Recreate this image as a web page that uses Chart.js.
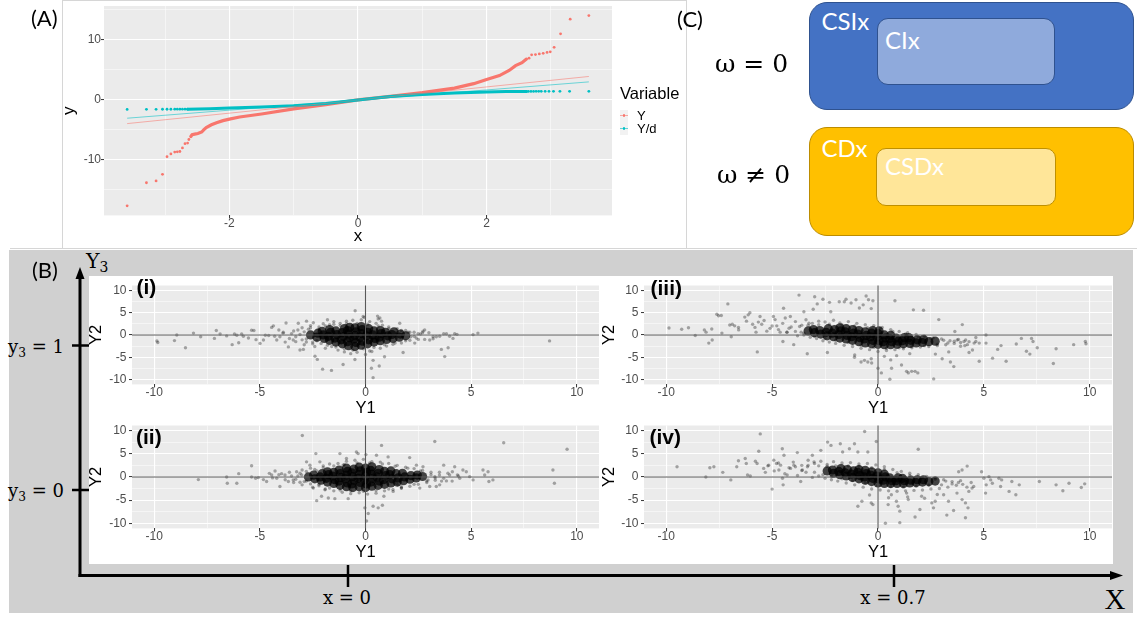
<!DOCTYPE html>
<html>
<head>
<meta charset="utf-8">
<script src="https://cdn.jsdelivr.net/npm/chart.js@4.4.1/dist/chart.umd.min.js"></script>
<style>
  html, body { margin: 0; padding: 0; background: #fff; }
  #page { position: relative; width: 1137px; height: 617px; overflow: hidden; font-family: "Liberation Sans", Arial, sans-serif; }
  .abs { position: absolute; }
  .lbl { position: absolute; white-space: nowrap; line-height: 1; }
  .tag { font-family: Lato, "Open Sans", sans-serif; font-size: 22px; color: #000; }
  .math { font-family: "DejaVu Serif", serif; color: #000; }
  .inbox { font-family: Lato, "Open Sans", sans-serif; font-size: 24px; color: #fff; }
  .panel { font-family: "Liberation Sans", Arial, sans-serif; font-weight: bold; font-size: 21px; color: #000; }
  .box { position: absolute; box-sizing: border-box; }
  canvas { position: absolute; }
  sub { font-size: 0.68em; vertical-align: -0.3em; line-height: 0; }
</style>
</head>
<body>
<div id="page">
  <!-- frames of the top row -->
  <div class="box" style="left:62px;top:0;width:625px;height:249px;border:1px solid #d6d6d6;border-bottom:none"></div>
  <div class="abs" style="left:10px;top:248px;width:1127px;height:1px;background:#d6d6d6"></div>

  <!-- (B) background -->
  <div class="abs" style="left:9px;top:250px;width:1124px;height:363px;background:#d0d0d0"></div>
  <div class="abs" style="left:89px;top:276px;width:1024px;height:288px;background:#fff"></div>

  <svg class="abs" style="left:0;top:0" width="1137" height="617">
    <g stroke="#000" fill="none">
      <line x1="80" y1="577" x2="80" y2="276" stroke-width="3"/>
      <line x1="78.5" y1="575.5" x2="1112" y2="575.5" stroke-width="3"/>
      <line x1="72" y1="345.5" x2="89" y2="345.5" stroke-width="2.5"/>
      <line x1="72" y1="490" x2="89" y2="490" stroke-width="2.5"/>
      <line x1="348" y1="565" x2="348" y2="587" stroke-width="2.5"/>
      <line x1="894" y1="565" x2="894" y2="587" stroke-width="2.5"/>
    </g>
    <polygon points="80,267 75.5,279 84.5,279" fill="#000"/>
    <polygon points="1123,575.5 1110,571 1110,580" fill="#000"/>
  </svg>

  <canvas id="qq" width="630" height="248" style="left:56px;top:0"></canvas>
  <canvas id="p1" width="521" height="143" style="left:84px;top:277px"></canvas>
  <canvas id="p2" width="521" height="147" style="left:84px;top:417px"></canvas>
  <canvas id="p3" width="522" height="143" style="left:598px;top:277px"></canvas>
  <canvas id="p4" width="522" height="147" style="left:598px;top:417px"></canvas>

  <!-- legend of the Q-Q plot -->
  <div class="lbl" style="left:620px;top:85px;font-size:16.5px;color:#000">Variable</div>
  <div class="abs" style="left:620px;top:109.5px;width:8px;height:12.5px;background:#f2f2f2"></div>
  <div class="abs" style="left:620px;top:122px;width:8px;height:12.5px;background:#f2f2f2"></div>
  <div class="abs" style="left:620px;top:115.3px;width:8px;height:1px;background:rgba(248,118,109,0.6)"></div>
  <div class="abs" style="left:622.6px;top:114.3px;width:2.8px;height:2.8px;border-radius:50%;background:#f8766d"></div>
  <div class="abs" style="left:620px;top:127.8px;width:8px;height:1px;background:rgba(0,191,196,0.6)"></div>
  <div class="abs" style="left:622.6px;top:126.8px;width:2.8px;height:2.8px;border-radius:50%;background:#00bfc4"></div>
  <div class="lbl" style="left:637px;top:109px;font-size:13px;color:#000">Y</div>
  <div class="lbl" style="left:637px;top:121.5px;font-size:13px;color:#000">Y/d</div>

  <!-- (C) diagram -->
  <div class="box" style="left:809px;top:2px;width:325px;height:108px;border-radius:18px;background:#4472c4;border:1.3px solid #2f528f"></div>
  <div class="box" style="left:877px;top:18px;width:178px;height:67px;border-radius:11px;background:#8faadc;border:1.5px solid #2f528f"></div>
  <div class="box" style="left:809px;top:127px;width:325px;height:109px;border-radius:18px;background:#ffc000;border:1.3px solid #bc8c00"></div>
  <div class="box" style="left:876px;top:148px;width:180px;height:58px;border-radius:10px;background:#ffe699;border:1.5px solid #bf9000"></div>
  <div class="lbl inbox" style="left:821.5px;top:9.3px">CSIx</div>
  <div class="lbl inbox" style="left:885px;top:27.8px">CIx</div>
  <div class="lbl inbox" style="left:821.5px;top:136.3px">CDx</div>
  <div class="lbl inbox" style="left:885px;top:153.8px">CSDx</div>
  <div class="lbl math" style="left:715px;top:50.5px;font-size:25px">ω = 0</div>
  <div class="lbl math" style="left:717px;top:162px;font-size:25px">ω ≠ 0</div>

  <!-- panel tags -->
  <div class="lbl tag" style="left:31px;top:7px">(A)</div>
  <div class="lbl tag" style="left:677px;top:8.4px">(C)</div>
  <div class="lbl tag" style="left:32px;top:259.4px">(B)</div>
  <div class="lbl panel" style="left:136.5px;top:276px">(i)</div>
  <div class="lbl panel" style="left:136px;top:425.6px">(ii)</div>
  <div class="lbl panel" style="left:650.5px;top:276.6px">(iii)</div>
  <div class="lbl panel" style="left:649.5px;top:425.6px">(iv)</div>

  <!-- Y3 / X design axes -->
  <div class="lbl math" style="left:86px;top:250.6px;font-size:20.5px">Y<sub>3</sub></div>
  <div class="lbl math" style="left:8px;top:338px;font-size:18px">y<sub>3</sub> = 1</div>
  <div class="lbl math" style="left:8px;top:482.3px;font-size:18px">y<sub>3</sub> = 0</div>
  <div class="lbl math" style="left:347px;top:589px;font-size:18px;transform:translateX(-50%)">x = 0</div>
  <div class="lbl math" style="left:893px;top:589px;font-size:18px;transform:translateX(-50%)">x = 0.7</div>
  <div class="lbl" style="left:1115px;top:585.3px;font-size:29px;font-family:'Liberation Serif',serif;transform:translateX(-50%)">X</div>
</div>

<script>
// ---- (A) Q-Q plot: theoretical quantile x, sample quantile y ----
const qqRedTail = [
  [-3.59, -17.65], [-3.29, -13.8], [-3.14, -13.5], [-3.04, -12.4], [-2.97, -9.45], [-2.91, -9.0],
  [-2.85, -8.7], [-2.81, -8.65], [-2.77, -8.6], [-2.73, -8.0], [-2.69, -7.3], [-2.65, -7.2], [-2.63, -6.6],
  [2.66, 6.95], [2.70, 7.5], [2.76, 7.55], [2.82, 7.65], [2.88, 7.75], [2.94, 7.9], [2.99, 8.0],
  [3.05, 8.75], [3.15, 11.0], [3.30, 13.45], [3.59, 14.05]
];
const qqRedBody = [
  [-2.60, -6.1], [-2.58, -5.8], [-2.54, -5.7], [-2.49, -5.6], [-2.43, -5.35], [-2.40, -5.0], [-2.36, -4.6],
  [-2.28, -4.15], [-2.20, -3.8], [-2.10, -3.45], [-2.0, -3.2], [-1.84, -2.85], [-1.5, -2.35], [-1.0, -1.5],
  [-0.5, -0.8], [0, 0], [0.5, 0.6], [1.0, 1.2], [1.5, 1.97], [1.8, 2.7], [2.0, 3.4], [2.2, 4.05],
  [2.35, 4.9], [2.45, 5.7], [2.55, 6.2], [2.62, 6.8]
];
const qqTealTail = [
  [-3.59, -1.58], [-3.29, -1.57], [-3.14, -1.57], [-3.04, -1.56], [-2.97, -1.56], [-2.91, -1.56],
  [-2.85, -1.55], [-2.81, -1.55], [-2.77, -1.55], [-2.73, -1.55], [-2.69, -1.54], [-2.65, -1.54],
  [2.65, 1.41], [2.69, 1.41], [2.73, 1.41], [2.77, 1.42], [2.81, 1.42], [2.85, 1.42], [2.91, 1.42],
  [2.97, 1.42], [3.04, 1.42], [3.14, 1.43], [3.29, 1.43], [3.59, 1.43]
];
const qqTealBody = [
  [-2.65, -1.54], [-2.3, -1.48], [-2.0, -1.36], [-1.5, -1.2], [-1.0, -0.98], [-0.5, -0.6], [0, 0],
  [0.5, 0.55], [1.0, 0.9], [1.5, 1.15], [2.0, 1.33], [2.3, 1.39], [2.62, 1.41]
];
const qqRedLine = [[-3.59, -3.95], [3.59, 3.9]];
const qqTealLine = [[-3.59, -3.05], [3.59, 3.0]];
const qqXBreaks = [-2, 0, 2];
const qqYBreaks = [-10, 0, 10];

// ---- (B) scatter of Y2 against Y1 ----
const scatBreaks = [-10, -5, 0, 5, 10];

const coreI = [
  [-2.6, 0.0], [-2.3, -0.5], [-2.25, 0.4], [-2.0, 0.0], [-1.95, -0.8], [-2.05, 0.8],
  [-1.7, -1.2], [-1.75, -0.3], [-1.65, 0.6], [-1.7, 1.2], [-1.4, -1.6], [-1.45, -0.7], [-1.35, 0.1], [-1.4, 0.9],
  [-1.1, -2.0], [-1.15, -1.1], [-1.05, -0.3], [-1.1, 0.5], [-1.0, 1.4],
  [-0.8, -2.4], [-0.85, -1.5], [-0.75, -0.6], [-0.8, 0.2], [-0.85, 1.0], [-0.75, 1.7],
  [-0.5, -2.6], [-0.45, -1.7], [-0.55, -0.9], [-0.5, -0.1], [-0.45, 0.7], [-0.5, 1.6],
  [-0.2, -2.3], [-0.15, -1.4], [-0.25, -0.5], [-0.2, 0.3], [-0.15, 1.2], [-0.2, 1.9],
  [0.1, -2.0], [0.15, -1.1], [0.05, -0.2], [0.1, 0.6], [0.15, 1.4],
  [0.4, -1.6], [0.45, -0.8], [0.35, 0.0], [0.4, 0.9], [0.7, -1.3], [0.65, -0.5], [0.75, 0.3], [0.7, 1.0],
  [1.0, -1.0], [1.05, -0.2], [0.95, 0.6], [1.3, -0.8], [1.25, 0.1], [1.35, 0.7], [1.6, -0.5], [1.65, 0.2], [1.9, -0.2]
];
const ptsI = [
  [-9.87, -1.34], [-9.83, -1.69], [-8.93, 0], [-9.04, -1.27], [-8.52, -2.89], [-8.14, 0.42], [-7.80, -0.42],
  [-7.15, -0.77], [-7.06, 0.99], [-6.88, 0.21], [-6.57, -0.21], [-6.31, -2.18], [-6.20, 0.21], [-6.09, -0.07],
  [-6.0, -1.76], [-5.86, 0.21], [-5.78, -0.28], [-5.54, -0.70], [-5.39, 1.06], [-5.28, 0.99], [-5.18, -1.06],
  [-4.99, -1.90], [-4.83, -1.13], [-4.74, -0.07], [-4.58, -0.14], [-4.44, 1.69], [-4.36, 2.04], [-4.20, -1.13],
  [-4.05, -0.42], [-3.89, 0.63], [-3.76, 2.68], [-3.65, -2.68], [-3.42, -1.13], [-3.18, 2.61], [-3.10, -3.38],
  [-2.94, -3.24], [-2.79, 3.10], [-2.47, 2.75], [-2.39, -4.79], [-2.28, -5.49], [-2.03, -7.68], [-1.61, -7.96],
  [-1.06, -6.62], [-0.49, 5.42], [-0.11, 4.15], [-0.06, 3.94], [0.20, -3.59], [0.36, -9.58], [0.57, 4.23],
  [0.68, 3.80], [0.76, 3.10], [0.28, -7.46], [0.65, -6.97], [0.36, -5.70], [1.62, 2.61], [1.78, -3.94],
  [2.02, 0.63], [2.14, -0.42], [2.33, -1.83], [2.49, 0.28], [2.72, 0.85], [2.80, 1.13], [3.04, -1.13],
  [3.20, -0.85], [3.35, -0.42], [3.51, -0.28], [3.59, -3.24], [3.70, 0.28], [3.83, 0.28], [3.91, -2.89],
  [3.75, -4.86], [3.98, -0.28], [4.14, -0.77], [4.22, 0.28], [4.33, 0.14], [5.09, 0.07], [5.32, 0.42], [8.71, -1.34],
  [-3.9, 0.4], [-3.6, -0.8], [-3.4, 0.9], [-3.3, -1.5], [-3.1, 0.1], [-3.0, 1.6], [-2.9, -2.2], [-2.8, -0.9],
  [-2.7, 1.3], [-2.6, 2.1], [-2.5, -1.6], [-2.4, -2.6], [-2.2, 1.8], [-2.1, -1.9], [-2.0, 2.5], [-1.9, -3.0],
  [-1.7, 2.3], [-1.6, -2.6], [-1.5, 3.0], [-1.3, -3.4], [-1.2, 2.6], [-1.0, -3.8], [-0.9, 3.1], [-0.7, -4.2],
  [-0.6, 3.3], [-0.4, -3.9], [-0.2, 3.4], [0.0, -4.4], [0.2, 3.0], [0.3, -3.7], [0.5, 2.6], [0.7, -3.0],
  [0.8, 2.2], [1.0, -2.5], [1.1, 1.8], [1.3, -2.1], [1.5, 1.4], [1.7, -1.8], [1.9, 1.0], [2.1, -1.2],
  [2.3, 0.6], [2.4, -0.7], [2.6, 0.2], [2.8, -1.0], [3.0, 0.5], [3.2, -0.4], [-4.3, -0.3], [-4.1, 1.1],
  [-3.8, -1.6], [-0.5, -5.5], [0.9, -4.9], [-1.8, 3.4], [0.6, 3.6],
  [-3.5, 0.3], [-3.3, -0.4], [-3.2, 1.1], [-3.0, -1.1], [-2.9, 0.7], [-2.8, -1.6], [-2.6, 1.6], [-2.5, -2.0],
  [-2.3, -1.3], [-2.2, 1.3], [-1.9, 2.0], [-1.8, -2.3], [-1.5, 2.4], [-1.4, -2.7], [-1.2, 2.1], [-1.0, -3.1],
  [-0.9, 2.5], [-0.6, -3.4], [-0.4, 2.6], [-0.1, -3.1], [0.1, 2.4], [0.4, -2.8], [0.6, 2.0], [0.9, -2.2],
  [1.1, 1.4], [1.4, -1.8], [1.7, 1.0], [1.9, -1.3], [2.1, 0.6], [2.3, -0.3], [2.5, -1.0], [2.7, 0.5]
];

const coreII = [
  [-2.7, 0.0], [-2.4, -0.4], [-2.45, 0.4], [-2.1, -0.7], [-2.15, 0.0], [-2.05, 0.7],
  [-1.8, -1.1], [-1.85, -0.3], [-1.75, 0.5], [-1.8, 1.1], [-1.5, -1.4], [-1.45, -0.6], [-1.55, 0.2], [-1.5, 1.0],
  [-1.2, -1.8], [-1.25, -0.9], [-1.15, -0.1], [-1.2, 0.7], [-1.25, 1.5],
  [-0.9, -2.1], [-0.85, -1.3], [-0.95, -0.4], [-0.9, 0.4], [-0.85, 1.2], [-0.9, 1.9],
  [-0.6, -2.3], [-0.65, -1.5], [-0.55, -0.7], [-0.6, 0.1], [-0.65, 0.9], [-0.55, 1.7],
  [-0.3, -2.1], [-0.25, -1.2], [-0.35, -0.3], [-0.3, 0.5], [-0.25, 1.3], [-0.3, 2.1],
  [0.0, -2.3], [0.05, -1.5], [-0.05, -0.6], [0.0, 0.2], [0.05, 1.0], [0.0, 1.9],
  [0.3, -2.0], [0.25, -1.1], [0.35, -0.3], [0.3, 0.6], [0.25, 1.4], [0.3, 2.2],
  [0.6, -1.8], [0.65, -0.9], [0.55, 0.0], [0.6, 0.8], [0.65, 1.6],
  [0.9, -1.6], [0.85, -0.6], [0.95, 0.3], [0.9, 1.2], [1.2, -1.3], [1.25, -0.4], [1.15, 0.5], [1.2, 1.3],
  [1.5, -1.1], [1.55, -0.2], [1.45, 0.7], [1.8, -0.8], [1.85, 0.0], [1.75, 0.8],
  [2.1, -0.5], [2.15, 0.3], [2.4, -0.2], [2.45, 0.4], [2.7, 0.1]
];
const ptsII = [
  [-7.91, -0.57], [-6.57, 0], [-6.54, -1.35], [-6.09, -1.35], [-6.0, 0.71], [-5.39, 2.41], [-5.39, 0],
  [-5.20, -0.28], [-5.07, -0.14], [-4.83, -0.57], [-4.68, -0.99], [-4.55, 0.78], [-4.44, 0.43], [-4.28, 1.28],
  [-4.20, -0.28], [-4.05, -2.06], [-3.97, 0.71], [-3.81, 0.43], [-3.65, -0.99], [-3.42, -0.64], [-3.26, 1.13],
  [-3.10, -1.13], [-3.02, 0.43], [-2.99, 8.94], [-2.79, 3.26], [-2.63, 2.55], [-2.47, -2.41], [-2.35, 5.04],
  [-2.31, -5.11], [-2.16, 3.26], [-2.08, -4.18], [-1.92, -2.77], [-1.76, -4.54], [-1.45, -4.68], [-1.21, 5.04],
  [-1.06, 2.55], [-0.90, 3.97], [-0.82, -4.68], [-0.43, 5.39], [-0.35, 5.04], [0.02, 4.82], [0.13, -7.87],
  [0.05, -9.50], [-0.03, -6.67], [0.36, -6.31], [0.52, 4.68], [0.60, -6.67], [0.76, 6.81], [0.80, -6.10],
  [0.87, -4.18], [1.07, 4.33], [1.31, -3.12], [1.46, -1.35], [1.54, -1.70], [1.70, -2.41], [2.09, 4.18],
  [2.41, 2.55], [2.57, -2.41], [2.72, 2.20], [2.96, -0.64], [3.04, -2.06], [3.28, 0.07], [3.35, -2.06],
  [3.51, -1.70], [3.28, 7.66], [3.70, 2.55], [3.83, -0.85], [3.98, 0.43], [4.11, 1.13], [4.22, 2.20],
  [4.35, 0.43], [4.46, -0.28], [4.61, 1.49], [4.77, 1.13], [4.93, 0.07], [5.09, -0.64], [5.56, 1.49],
  [5.64, 0.43], [5.80, 1.13], [5.84, -0.99], [6.03, -0.64], [6.54, 7.38], [8.87, 1.49], [8.94, -1.35], [9.54, 5.96],
  [-4.1, 0.5], [-3.8, -0.6], [-3.6, 1.0], [-3.4, -1.2], [-3.2, 0.2], [-3.0, 1.5], [-3.0, -1.7], [-2.8, -0.9],
  [-2.6, 1.9], [-2.5, -2.2], [-2.3, 1.3], [-2.2, -1.6], [-2.0, 2.4], [-1.9, -2.6], [-1.7, 2.8], [-1.5, -3.0],
  [-1.3, 2.9], [-1.1, -3.3], [-0.9, 3.4], [-0.7, -3.6], [-0.5, 3.6], [-0.3, -3.4], [-0.1, 3.8], [0.1, -3.7],
  [0.3, 3.3], [0.5, -3.5], [0.7, 3.2], [0.9, -3.0], [1.1, 2.9], [1.3, -2.7], [1.5, 2.5], [1.7, -2.4],
  [1.9, 2.1], [2.1, -2.0], [2.3, 1.8], [2.5, -1.6], [2.7, 1.4], [2.9, -1.2], [3.1, 1.0], [3.3, -0.7],
  [3.5, 0.4], [3.7, -0.3], [3.9, 0.8], [4.1, -0.9], [4.4, 0.2], [-4.4, -0.2],
  [-3.5, 0.2], [-3.3, -0.5], [-3.1, 0.8], [-2.9, -1.0], [-2.8, 1.2], [-2.6, -1.5], [-2.4, 1.6], [-2.2, -1.9],
  [-2.0, 2.0], [-1.7, -2.4], [-1.5, 2.4], [-1.2, -2.8], [-1.0, 2.7], [-0.7, -3.0], [-0.4, 3.0], [-0.1, -3.1],
  [0.2, 3.0], [0.5, -2.9], [0.8, 2.8], [1.1, -2.6], [1.4, 2.3], [1.7, -2.1], [2.0, 1.9], [2.3, -1.6],
  [2.6, 1.3], [2.9, -0.9], [3.1, 0.5], [3.3, -0.2], [3.5, 1.0], [3.6, -0.9]
];

const coreIII = [
  [-3.3, 0.9], [-3.0, 0.5], [-3.05, 1.2], [-2.7, 0.2], [-2.75, 1.0], [-2.4, -0.2], [-2.45, 0.6], [-2.35, 1.4],
  [-2.1, -0.4], [-2.15, 0.4], [-2.05, 1.2], [-1.8, -0.7], [-1.85, 0.1], [-1.75, 0.9], [-1.8, 1.6],
  [-1.5, -0.9], [-1.45, -0.1], [-1.55, 0.7], [-1.5, 1.4], [-1.2, -1.2], [-1.25, -0.4], [-1.15, 0.4], [-1.2, 1.2],
  [-0.9, -1.5], [-0.85, -0.6], [-0.95, 0.2], [-0.9, 1.0], [-0.6, -1.8], [-0.65, -0.9], [-0.55, -0.1], [-0.6, 0.7],
  [-0.3, -2.0], [-0.25, -1.2], [-0.35, -0.4], [-0.3, 0.4], [-0.25, 1.0],
  [0.0, -2.1], [0.05, -1.3], [-0.05, -0.5], [0.0, 0.3], [0.05, 0.9],
  [0.3, -2.2], [0.25, -1.5], [0.35, -0.7], [0.3, 0.0], [0.6, -2.2], [0.65, -1.5], [0.55, -0.8], [0.6, -0.1],
  [0.9, -2.1], [0.95, -1.4], [0.85, -0.7], [1.2, -2.0], [1.15, -1.3], [1.25, -0.6],
  [1.5, -1.9], [1.55, -1.2], [1.45, -0.6], [1.8, -1.8], [1.85, -1.1], [2.1, -1.7], [2.15, -1.0],
  [2.4, -1.5], [2.7, -1.4]
];
const ptsIII = [
  [-9.87, 1.55], [-9.27, 1.27], [-8.95, 1.62], [-8.63, -0.14], [-8.20, 1.13], [-8.12, 0.63], [-7.99, -1.83],
  [-7.83, -1.13], [-7.85, 1.34], [-7.61, 4.65], [-7.53, 4.30], [-7.40, 4.37], [-7.37, 0.42], [-7.09, 6.97],
  [-7.0, 2.25], [-6.88, 2.39], [-6.77, 2.04], [-6.93, -0.42], [-6.59, 1.69], [-6.58, 1.13], [-6.29, 4.01],
  [-6.21, 3.10], [-6.13, 4.51], [-6.05, 5.0], [-5.92, 2.39], [-5.81, 1.69], [-5.76, 0.63], [-5.70, -3.80],
  [-5.65, 2.89], [-5.57, 4.15], [-5.49, 2.39], [-5.38, 3.24], [-5.25, 0.85], [-5.10, 1.48], [-4.94, 4.15],
  [-4.86, 3.45], [-4.78, 2.04], [-4.62, 0.63], [-4.49, -1.48], [-4.46, 5.99], [-4.38, 3.80], [-4.30, 0.63],
  [-4.14, 4.15], [-3.98, -2.18], [-3.73, 8.94], [-3.63, 0.63], [-3.50, 5.21], [-3.34, -4.23], [-3.26, 2.61],
  [-3.06, 5.77], [-2.99, 8.59], [-2.87, 6.97], [-2.60, 8.03], [-2.39, -3.94], [-2.29, 7.32], [-2.23, 5.21],
  [-1.83, 7.46], [-1.59, 7.46], [-1.51, 8.03], [-1.27, 7.18], [-1.04, 7.89], [-0.88, 6.06], [-0.70, 6.76],
  [-0.56, 8.73], [-0.45, 7.89], [-0.32, 5.92], [-0.24, 7.68], [-0.80, -6.06], [-0.64, -5.70], [-0.48, -6.06],
  [-0.32, -5.35], [-1.11, -5.0], [0, -7.46], [0.16, -8.52], [0.56, -9.93], [0.64, -7.46], [0.80, 7.68],
  [0.88, -4.65], [1.11, -6.76], [1.35, -8.17], [1.43, -8.52], [1.59, -8.17], [1.75, -8.17], [1.88, -8.52],
  [1.67, 5.63], [2.15, 5.56], [2.63, -9.86], [2.87, 3.45], [2.71, -4.30], [3.03, -5.35], [3.34, -3.80],
  [3.42, -6.06], [3.58, -7.11], [3.63, 0.77], [3.74, -1.13], [3.90, -2.54], [3.98, 2.32], [4.06, -1.48],
  [4.14, -1.13], [4.22, -2.18], [4.30, -3.94], [4.46, -3.38], [4.54, -1.83], [4.62, -1.48], [4.78, -1.83],
  [4.78, -5.92], [4.62, -0.56], [5.10, 0], [5.10, -1.83], [5.41, -5.21], [5.65, -3.24], [5.81, -2.39],
  [6.05, -5.92], [6.53, -2.04], [6.77, -0.77], [7.01, -3.66], [7.17, -4.30], [7.25, -0.77], [7.32, -1.48],
  [7.52, -2.89], [8.28, -6.41], [8.41, -3.10], [9.24, -2.18], [9.79, -1.48], [9.82, -1.97],
  [-5.0, 2.0], [-4.7, 1.2], [-4.5, 2.6], [-4.3, 0.6], [-4.1, 1.8], [-3.9, 3.0], [-3.8, -0.2], [-3.6, 2.2],
  [-3.5, 0.0], [-3.4, 3.4], [-3.2, -0.5], [-3.1, 2.6], [-2.9, -0.8], [-2.8, 3.1], [-2.6, -1.3], [-2.5, 2.9],
  [-2.3, -1.6], [-2.1, 3.3], [-2.0, -1.9], [-1.8, 2.7], [-1.6, -2.3], [-1.4, 3.0], [-1.2, -2.6], [-1.0, 2.6],
  [-0.8, -3.0], [-0.6, 2.3], [-0.4, -3.3], [-0.2, 2.1], [0.0, -3.7], [0.2, 1.7], [0.4, -3.5], [0.6, 1.2],
  [0.8, -3.3], [1.0, 0.8], [1.2, -3.1], [1.4, 0.5], [1.6, -2.9], [1.8, 0.1], [2.0, -2.7], [2.2, -0.3],
  [2.4, -2.6], [2.6, -0.7], [2.8, -2.4], [3.0, -0.9], [3.2, -2.2], [3.4, -1.3], [3.6, -1.9], [3.8, -1.0],
  [4.1, -2.4], [4.3, -1.5], [-1.1, -4.5], [0.3, -4.8], [1.5, -4.2], [0.6, -5.6], [-0.3, -6.3],
  [-4.2, 1.5], [-3.9, 0.8], [-3.7, 1.9], [-3.5, 0.4], [-3.3, 2.2], [-3.0, -0.3], [-2.8, 2.3], [-2.5, -0.8],
  [-2.3, 2.4], [-2.0, -1.2], [-1.7, 2.3], [-1.4, -1.7], [-1.1, 2.0], [-0.8, -2.3], [-0.5, 1.6], [-0.2, -2.8],
  [0.1, 1.4], [0.4, -3.0], [0.7, 0.8], [1.0, -2.9], [1.3, 0.2], [1.6, -2.6], [1.9, -0.4], [2.2, -2.4],
  [2.5, -0.8], [2.8, -2.1], [3.1, -1.2], [3.3, -1.8], [3.6, -1.4], [3.9, -1.7]
];

const coreIV = [
  [-2.4, 1.3], [-2.1, 0.8], [-2.15, 1.5], [-1.8, 0.5], [-1.85, 1.2], [-1.75, 1.8],
  [-1.5, 0.2], [-1.55, 0.9], [-1.45, 1.6], [-1.2, -0.1], [-1.25, 0.6], [-1.15, 1.3],
  [-0.9, -0.4], [-0.85, 0.3], [-0.95, 1.0], [-0.9, 1.6], [-0.6, -0.7], [-0.65, 0.0], [-0.55, 0.7], [-0.6, 1.4],
  [-0.3, -1.0], [-0.25, -0.3], [-0.35, 0.4], [-0.3, 1.1], [0.0, -1.3], [0.05, -0.5], [-0.05, 0.2], [0.0, 0.9],
  [0.3, -1.4], [0.25, -0.7], [0.35, 0.0], [0.3, 0.6], [0.6, -1.4], [0.65, -0.8], [0.55, -0.2],
  [0.9, -1.4], [0.85, -0.8], [0.95, -0.2], [1.2, -1.4], [1.25, -0.8], [1.15, -0.3],
  [1.5, -1.3], [1.55, -0.7], [1.8, -1.2], [1.85, -0.6], [2.1, -1.1], [2.15, -0.6], [2.4, -1.0], [2.7, -0.9]
];
const ptsIV = [
  [-9.49, 2.20], [-8.13, 0], [-7.94, 1.99], [-7.75, 2.20], [-7.33, 0.99], [-6.95, -0.64], [-6.67, 2.20],
  [-6.59, 3.48], [-6.27, 3.97], [-6.22, 2.91], [-6.16, 0.43], [-6.03, 0.21], [-5.79, 3.40], [-5.71, 2.91],
  [-5.63, 5.53], [-5.56, 9.29], [-5.40, 1.84], [-5.32, 0.99], [-5.16, 2.55], [-5.0, -2.62], [-4.92, 3.62],
  [-4.79, 2.91], [-4.68, 1.49], [-4.60, 2.55], [-4.52, 6.10], [-4.51, -0.28], [-4.48, -1.70], [-4.44, 4.68],
  [-4.29, 0.43], [-4.13, 1.84], [-3.97, 2.55], [-3.81, 5.25], [-3.65, -0.99], [-3.57, 1.49], [-3.33, 2.20],
  [-3.10, 4.68], [-3.02, 3.26], [-2.70, 5.74], [-2.38, 7.52], [-2.22, 6.81], [-1.78, 7.16], [-1.67, 5.39],
  [-1.35, 6.10], [-1.11, 7.16], [-0.95, 5.39], [-0.95, -6.31], [-0.76, -5.25], [-0.63, 9.79], [-0.48, 5.39],
  [-0.32, -5.60], [-0.24, -5.96], [-0.08, 7.66], [0.35, -10.0], [0.48, -5.96], [0.63, -3.83], [0.87, -5.25],
  [0.95, -6.31], [1.03, -7.38], [1.03, -9.86], [1.35, -3.48], [1.43, -4.89], [1.75, -8.65], [1.90, 5.96],
  [1.98, -7.02], [2.06, -4.18], [2.54, -5.60], [2.62, -6.67], [2.70, -5.25], [3.10, -3.83], [3.25, -8.23],
  [3.33, -5.25], [3.57, -7.23], [3.73, -3.48], [3.81, 1.13], [3.97, 1.49], [3.97, -4.89], [4.13, -5.60],
  [4.21, 2.34], [4.13, -8.79], [4.25, -6.67], [4.29, -3.12], [4.44, -2.41], [4.52, -2.06], [4.89, 1.13],
  [5.0, -0.28], [5.08, -3.48], [5.11, -1.70], [5.24, 0.07], [5.32, -0.64], [5.40, -1.35], [5.71, -0.28],
  [5.79, -2.06], [5.84, -0.64], [6.19, -3.12], [6.32, -0.99], [6.51, -3.83], [6.67, -1.70], [7.62, -0.99],
  [8.41, -1.70], [8.73, -2.98], [9.02, -1.35], [9.60, -2.27], [9.76, -1.49],
  [-5.2, 2.4], [-4.9, 1.3], [-4.7, 3.0], [-4.4, 0.7], [-4.2, 2.0], [-4.0, 3.2], [-3.8, 0.3], [-3.6, 2.5],
  [-3.4, 1.0], [-3.3, 3.6], [-3.1, -0.1], [-3.0, 2.9], [-2.8, 0.2], [-2.7, 3.4], [-2.5, -0.3], [-2.4, 2.7],
  [-2.2, -0.6], [-2.1, 3.3], [-1.9, -0.9], [-1.7, 3.0], [-1.5, -1.3], [-1.3, 3.1], [-1.1, -1.7], [-0.9, 2.8],
  [-0.7, -2.2], [-0.5, 2.9], [-0.3, -2.6], [-0.1, 2.6], [0.1, -2.8], [0.3, 2.2], [0.5, -3.0], [0.7, 1.6],
  [0.9, -3.1], [1.1, 1.2], [1.3, -3.0], [1.5, 0.8], [1.7, -2.9], [1.9, 0.5], [2.1, -2.8], [2.3, 0.1],
  [2.5, -2.6], [2.7, -0.2], [2.9, -2.5], [3.1, -0.6], [3.3, -2.2], [3.5, -1.0], [3.7, -1.8], [3.9, -0.8],
  [4.2, -2.2], [4.4, -1.2], [0.5, -4.5], [1.4, -4.3], [-0.4, -3.9], [2.2, -4.6], [2.8, -3.8],
  [-3.9, 2.2], [-3.6, 1.4], [-3.3, 2.5], [-3.0, 1.0], [-2.8, 2.4], [-2.6, 0.5], [-2.4, 2.3], [-2.2, 0.1],
  [-2.0, 2.4], [-1.7, -0.4], [-1.4, 2.4], [-1.2, -0.8], [-0.9, 2.3], [-0.6, -1.3], [-0.3, 2.0], [0.0, -1.9],
  [0.3, 1.6], [0.6, -2.1], [0.9, 0.9], [1.2, -2.2], [1.5, 0.3], [1.8, -2.0], [2.1, -0.1], [2.4, -1.8],
  [2.7, -0.5], [3.0, -1.7], [3.2, -0.9], [3.5, -1.5], [3.8, -1.2], [4.0, -1.6]
];

Chart.defaults.font.family = '"Liberation Sans", Arial, sans-serif';
Chart.defaults.animation = false;

const toXY = arr => arr.map(p => ({ x: p[0], y: p[1] }));

// grey ggplot-style panel behind the grid
const panelBg = {
  id: 'panelBg',
  beforeDraw(chart) {
    const { ctx, chartArea: a } = chart;
    ctx.save();
    ctx.fillStyle = '#ebebeb';
    ctx.fillRect(a.left, a.top, a.right - a.left, a.bottom - a.top);
    ctx.restore();
  }
};

// dark reference lines through the origin, drawn over the points
const zeroLines = {
  id: 'zeroLines',
  afterDatasetsDraw(chart) {
    const { ctx, chartArea: a, scales: { x, y } } = chart;
    const px = x.getPixelForValue(0);
    const py = y.getPixelForValue(0);
    ctx.save();
    ctx.strokeStyle = '#5a5a5a';
    ctx.lineWidth = 1.1;
    ctx.beginPath();
    ctx.moveTo(a.left, py); ctx.lineTo(a.right, py);
    ctx.moveTo(px, a.top); ctx.lineTo(px, a.bottom);
    ctx.stroke();
    ctx.restore();
  }
};

function axis(o) {
  const isX = o.pos === 'bottom';
  return {
    type: 'linear',
    position: o.pos,
    min: o.min,
    max: o.max,
    border: { display: false },
    grid: {
      color: '#ffffff',
      lineWidth: c => o.breaks.includes(c.tick.value) ? 1.1 : 0.5,
      tickColor: c => o.breaks.includes(c.tick.value) ? '#333333' : 'rgba(0,0,0,0)',
      tickLength: 3,
      tickWidth: 1
    },
    ticks: {
      stepSize: o.step,
      includeBounds: false,
      autoSkip: false,
      maxRotation: 0,
      color: '#4d4d4d',
      font: { size: 12, lineHeight: 1 },
      padding: o.tickPad,
      callback: v => o.breaks.includes(v) ? String(v) : ''
    },
    title: {
      display: true,
      text: o.title,
      color: '#000',
      font: { size: o.titleSize, lineHeight: 1.2 },
      padding: isX ? { top: 0, bottom: o.titlePad } : { top: o.titlePad, bottom: 0 }
    },
    afterFit: s => { if (isX) s.height = o.size; else s.width = o.size; }
  };
}

new Chart(document.getElementById('qq'), {
  type: 'scatter',
  data: {
    datasets: [
      { data: toXY(qqTealLine), showLine: true, borderColor: 'rgba(0,191,196,0.55)', borderWidth: 1, pointRadius: 0, order: 0 },
      { data: toXY(qqRedLine), showLine: true, borderColor: 'rgba(248,118,109,0.55)', borderWidth: 1, pointRadius: 0, order: 1 },
      { data: toXY(qqTealBody), showLine: true, borderColor: '#00bfc4', borderWidth: 3, borderCapStyle: 'round', pointRadius: 0, order: 2 },
      { data: toXY(qqTealTail), backgroundColor: '#00bfc4', borderWidth: 0, pointRadius: 1.4, order: 2 },
      { data: toXY(qqRedBody), showLine: true, borderColor: '#f8766d', borderWidth: 3.2, borderCapStyle: 'round', pointRadius: 0, order: 3 },
      { data: toXY(qqRedTail), backgroundColor: '#f8766d', borderWidth: 0, pointRadius: 1.4, order: 3 }
    ]
  },
  options: {
    responsive: false,
    events: [],
    layout: { padding: { top: 2.6, right: 74, bottom: 0, left: 0 } },
    plugins: { legend: { display: false }, tooltip: { enabled: false } },
    scales: {
      x: axis({ pos: 'bottom', min: -3.95, max: 3.95, step: 1, breaks: qqXBreaks, title: 'x', titleSize: 17, titlePad: 1, tickPad: -0.6, size: 32.6 }),
      y: axis({ pos: 'left', min: -19.24, max: 15.64, step: 5, breaks: qqYBreaks, title: 'y', titleSize: 17, titlePad: 3.3, tickPad: 0, size: 48 })
    }
  },
  plugins: [panelBg]
});

function scatterPanel(id, core, pts, g) {
  new Chart(document.getElementById(id), {
    type: 'scatter',
    data: {
      datasets: [
        { data: toXY(core), backgroundColor: 'rgba(0,0,0,0.72)', borderWidth: 0, pointRadius: 4.6 },
        { data: toXY(pts), backgroundColor: 'rgba(0,0,0,0.32)', borderWidth: 0, pointRadius: 1.7 }
      ]
    },
    options: {
      responsive: false,
      events: [],
      layout: { padding: { top: g.top, right: g.right, bottom: 0, left: 0 } },
      plugins: { legend: { display: false }, tooltip: { enabled: false } },
      scales: {
        x: axis({ pos: 'bottom', min: -11.05, max: 11.05, step: 2.5, breaks: scatBreaks, title: 'Y1', titleSize: 16.5, titlePad: 1.3, tickPad: -1, size: 35.6 }),
        y: axis({ pos: 'left', min: -11.1, max: 11.1, step: 2.5, breaks: scatBreaks, title: 'Y2', titleSize: 16.5, titlePad: g.yTitlePad, tickPad: 2.5, size: g.yW })
      }
    },
    plugins: [panelBg, zeroLines]
  });
}

scatterPanel('p1', coreI, ptsI, { top: 1.5, right: 6, yW: 48, yTitlePad: 2.4 });
scatterPanel('p2', coreII, ptsII, { top: 5.7, right: 6, yW: 48, yTitlePad: 2.4 });
scatterPanel('p3', coreIII, ptsIII, { top: 1.5, right: 8, yW: 46, yTitlePad: 1.9 });
scatterPanel('p4', coreIV, ptsIV, { top: 5.7, right: 8, yW: 46, yTitlePad: 1.9 });
</script>
</body>
</html>
